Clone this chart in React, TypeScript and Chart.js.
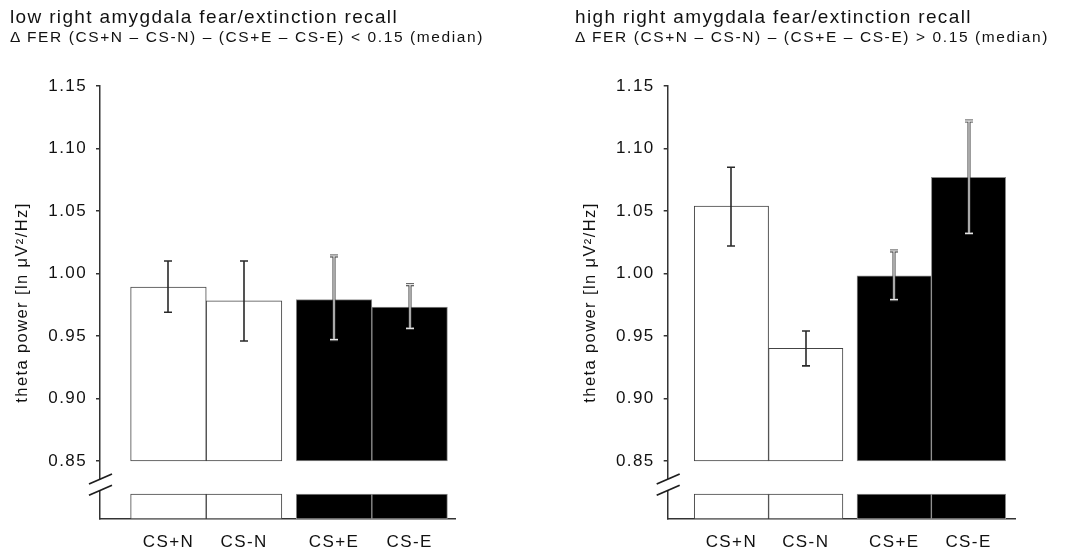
import React, { useEffect, useRef } from 'react';
import { Chart, registerables } from 'chart.js';

Chart.register(...registerables);

// ---------- data ----------
const CATEGORIES = ['CS+N', 'CS-N', 'CS+E', 'CS-E'];
const X_POS = [0, 1, 2.19, 3.19];

const LOW_VALUES = [0.989, 0.978, 0.979, 0.973];
const LOW_ERR_LO = [0.969, 0.946, 0.947, 0.956];
const LOW_ERR_HI = [1.010, 1.010, 1.014, 0.991];

const HIGH_VALUES = [1.054, 0.940, 0.998, 1.077];
const HIGH_ERR_LO = [1.022, 0.926, 0.979, 1.032];
const HIGH_ERR_HI = [1.085, 0.954, 1.018, 1.122];

const Y_TICKS = [0.85, 0.9, 0.95, 1.0, 1.05, 1.1, 1.15];
const BAR_BASE = 0.85;
const AXIS_MIN = 0.8035;
const AXIS_MAX = 1.15;
const STUB_TOP = 0.8235;
const BREAK_MARKS = [0.8355, 0.8265];

const LOW_TITLE = 'low right amygdala fear/extinction recall';
const LOW_SUBTITLE = 'Δ FER (CS+N – CS-N) – (CS+E – CS-E) < 0.15 (median)';
const HIGH_TITLE = 'high right amygdala fear/extinction recall';
const HIGH_SUBTITLE = 'Δ FER (CS+N – CS-N) – (CS+E – CS-E) > 0.15 (median)';
const Y_TITLE = 'theta power [ln μV²/Hz]';

// ---------- styles ----------
const FILL = ['#ffffff', '#ffffff', '#000000', '#000000'];
const EDGE = ['#444444', '#444444', '#8c8c8c', '#8c8c8c'];
const FONT = "'Liberation Sans', Arial, Helvetica, sans-serif";
const TEXT = '#111111';
const AXIS = '#333333';

Chart.defaults.font.family = FONT;
Chart.defaults.color = TEXT;

const spacingPlugin = {
  id: 'spacing',
  beforeUpdate(chart: any) {
    chart.ctx.letterSpacing = '1.4px';
  },
  beforeDraw(chart: any) {
    chart.ctx.letterSpacing = '1.4px';
  },
};

function errorPlugin(lo: number[], hi: number[]) {
  return {
    id: 'errbars',
    afterDatasetsDraw(chart: any) {
      const ctx = chart.ctx;
      const ys = chart.scales.y;
      const meta = chart.getDatasetMeta(0);
      meta.data.forEach((bar: any, i: number) => {
        const x = Math.round(bar.x);
        const yt = ys.getPixelForValue(hi[i]);
        const yb = ys.getPixelForValue(lo[i]);
        const cap = 4;
        const path = () => {
          ctx.beginPath();
          ctx.moveTo(x, yt);
          ctx.lineTo(x, yb);
          ctx.moveTo(x - cap, yt);
          ctx.lineTo(x + cap, yt);
          ctx.moveTo(x - cap, yb);
          ctx.lineTo(x + cap, yb);
        };
        ctx.save();
        if (FILL[i] === '#000000') {
          ctx.strokeStyle = '#3a3a3a';
          ctx.lineWidth = 3;
          path();
          ctx.stroke();
          ctx.strokeStyle = '#e4e4e4';
          ctx.lineWidth = 1.3;
          path();
          ctx.stroke();
        } else {
          ctx.strokeStyle = '#2a2a2a';
          ctx.lineWidth = 1.6;
          path();
          ctx.stroke();
        }
        ctx.restore();
      });
    },
  };
}

const breakPlugin = {
  id: 'axisbreak',
  afterDraw(chart: any) {
    const ctx = chart.ctx;
    const ys = chart.scales.y;
    const ax = chart.chartArea.left;
    const [m1, m2] = BREAK_MARKS.map((v) => ys.getPixelForValue(v));
    ctx.save();
    ctx.fillStyle = '#ffffff';
    ctx.fillRect(ax - 3, m1, 6, m2 - m1);
    ctx.strokeStyle = '#1e1e1e';
    ctx.lineWidth = 1.8;
    for (const m of [m1, m2]) {
      ctx.beginPath();
      ctx.moveTo(ax - 11, m + 5);
      ctx.lineTo(ax + 12, m - 5);
      ctx.stroke();
    }
    ctx.restore();
  },
};

type PanelProps = {
  values: number[];
  errLo: number[];
  errHi: number[];
  xMin: number;
  xMax: number;
  padLeft: number;
  padRight: number;
  left: number;
};

function Panel({ values, errLo, errHi, xMin, xMax, padLeft, padRight, left }: PanelProps) {
  const ref = useRef<HTMLCanvasElement>(null);
  useEffect(() => {
    const canvas = ref.current as HTMLCanvasElement;
    const common = {
      backgroundColor: FILL,
      borderColor: EDGE,
      borderWidth: 1,
      borderSkipped: false,
      grouped: false,
      barPercentage: 1,
      categoryPercentage: 1,
    };
    const chart = new Chart(canvas, {
      type: 'bar',
      data: {
        datasets: [
          { ...common, data: X_POS.map((x, i) => ({ x, y: [BAR_BASE, values[i]] })) },
          { ...common, data: X_POS.map((x) => ({ x, y: [AXIS_MIN, STUB_TOP] })) },
        ] as any,
      },
      options: {
        animation: false,
        responsive: false,
        maintainAspectRatio: false,
        devicePixelRatio: 1,
        events: [],
        layout: { padding: { left: padLeft, right: padRight, top: 86, bottom: 0 } },
        plugins: {
          legend: { display: false },
          tooltip: { enabled: false },
          title: { display: false },
        },
        scales: {
          x: {
            type: 'linear',
            min: xMin,
            max: xMax,
            offset: false,
            grid: { display: false, drawTicks: false },
            border: { display: true, color: AXIS, width: 1.5 },
            ticks: {
              autoSkip: false,
              padding: 13,
              maxRotation: 0,
              font: { size: 17 },
              color: TEXT,
              callback: (v: any) => {
                const i = X_POS.indexOf(Number(v));
                return i >= 0 ? CATEGORIES[i] : '';
              },
            },
            afterBuildTicks: (s: any) => {
              s.ticks = X_POS.map((v) => ({ value: v }));
            },
            afterFit: (s: any) => {
              s.height = 33;
            },
          },
          y: {
            type: 'linear',
            min: AXIS_MIN,
            max: AXIS_MAX,
            grid: {
              display: true,
              drawOnChartArea: false,
              drawTicks: true,
              tickLength: 4,
              color: AXIS,
              lineWidth: 1.5,
            },
            border: { display: true, color: AXIS, width: 1.5 },
            ticks: {
              autoSkip: false,
              padding: 9,
              font: { size: 17 },
              color: TEXT,
              callback: (v: any) => Number(v).toFixed(2),
            },
            title: {
              display: true,
              text: Y_TITLE,
              font: { size: 16.5 },
              color: TEXT,
              padding: { top: 3, bottom: 0 },
            },
            afterBuildTicks: (s: any) => {
              s.ticks = Y_TICKS.map((v) => ({ value: v }));
            },
            afterFit: (s: any) => {
              s.width = 90;
            },
          },
        },
      } as any,
      plugins: [spacingPlugin, errorPlugin(errLo, errHi), breakPlugin],
    });
    return () => chart.destroy();
  }, []);
  return (
    <canvas
      ref={ref}
      width={536}
      height={552}
      style={{ position: 'absolute', left, top: 0, width: 536, height: 552 }}
    />
  );
}

const titleStyle = (left: number, top: number, size: number, ls: number): React.CSSProperties => ({
  position: 'absolute',
  left,
  top,
  fontFamily: FONT,
  fontSize: size,
  lineHeight: `${size}px`,
  letterSpacing: ls,
  color: TEXT,
  whiteSpace: 'nowrap',
  zIndex: 2,
});

export default function App() {
  return (
    <div
      style={{
        position: 'absolute',
        left: 0,
        top: 0,
        width: 1072,
        height: 552,
        background: '#ffffff',
        overflow: 'hidden',
      }}
    >
      <Panel
        values={LOW_VALUES}
        errLo={LOW_ERR_LO}
        errHi={LOW_ERR_HI}
        xMin={-0.905}
        xMax={3.79}
        padLeft={10}
        padRight={81}
        left={0}
      />
      <Panel
        values={HIGH_VALUES}
        errLo={HIGH_ERR_LO}
        errHi={HIGH_ERR_HI}
        xMin={-0.857}
        xMax={3.815}
        padLeft={41.7}
        padRight={57}
        left={536}
      />
      <div style={titleStyle(10, 6.6, 19, 1.35)}>{LOW_TITLE}</div>
      <div style={titleStyle(10, 28.9, 15.5, 1.6)}>{LOW_SUBTITLE}</div>
      <div style={titleStyle(575, 6.6, 19, 1.35)}>{HIGH_TITLE}</div>
      <div style={titleStyle(575, 28.9, 15.5, 1.6)}>{HIGH_SUBTITLE}</div>
    </div>
  );
}
